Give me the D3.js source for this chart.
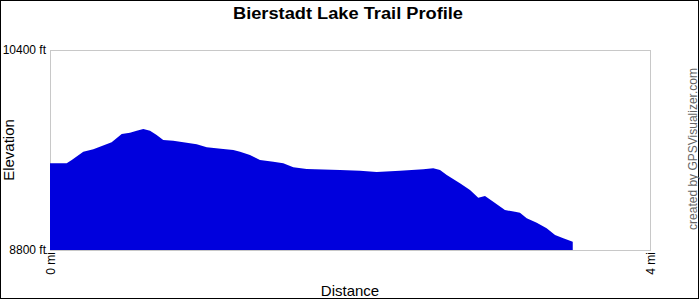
<!DOCTYPE html>
<html>
<head>
<meta charset="utf-8">
<script src="https://cdn.jsdelivr.net/npm/d3@7"></script>
<style>
  html, body { margin: 0; padding: 0; background: #fff; }
  svg { display: block; font-family: "Liberation Sans", Arial, sans-serif; }
</style>
</head>
<body>
<svg id="chart" width="700" height="300"></svg>
<script>
// Distance along trail (miles)
const distMi = [0, 0.111, 0.145, 0.222, 0.289, 0.411, 0.478, 0.533, 0.578, 0.622, 0.667, 0.711, 0.755, 0.822, 0.889, 0.978, 1.045, 1.155, 1.222, 1.267, 1.333, 1.4, 1.489, 1.555, 1.622, 1.711, 1.933, 2.067, 2.178, 2.333, 2.489, 2.555, 2.6, 2.645, 2.733, 2.8, 2.855, 2.9, 2.955, 3.033, 3.1, 3.133, 3.178, 3.245, 3.311, 3.367, 3.422, 3.485];
// Elevation (feet)
const elevFt = [9494, 9494, 9520, 9586, 9606, 9662, 9728, 9738, 9754, 9768, 9754, 9720, 9680, 9674, 9662, 9646, 9622, 9608, 9600, 9586, 9560, 9520, 9506, 9494, 9462, 9448, 9440, 9434, 9424, 9434, 9446, 9454, 9440, 9400, 9334, 9280, 9218, 9232, 9186, 9120, 9106, 9098, 9054, 9018, 8974, 8920, 8894, 8866];
const xTicks = [0, 4];
const xTickLabels = ["0 mi", "4 mi"];
const yTicks = [8800, 10400];
const yTickLabels = ["8800 ft", "10400 ft"];
const titleText = "Bierstadt Lake Trail Profile";
const xTitle = "Distance";
const yTitle = "Elevation";
const credit = "created by GPSVisualizer.com";

const svg = d3.select("#chart");
const W = 700, H = 300;
const plot = { left: 50, right: 650, top: 50, bottom: 250 };

const x = d3.scaleLinear().domain([0, 4]).range([plot.left, plot.right]);
const y = d3.scaleLinear().domain([8800, 10400]).range([plot.bottom, plot.top]);

// outer frame
svg.append("rect")
  .attr("x", 0.5).attr("y", 0.5).attr("width", W - 2).attr("height", H - 2)
  .attr("fill", "#fff").attr("stroke", "#000").attr("stroke-width", 1);

// plot border
svg.append("rect")
  .attr("x", plot.left + 0.5).attr("y", plot.top + 0.5)
  .attr("width", plot.right - plot.left).attr("height", plot.bottom - plot.top)
  .attr("fill", "none").attr("stroke", "#c8c8c8").attr("stroke-width", 1);

const data = distMi.map((d, i) => ({ d, e: elevFt[i] }));
const area = d3.area()
  .x(p => x(p.d))
  .y0(y(8800))
  .y1(p => y(p.e))
  .curve(d3.curveLinear);

svg.append("path")
  .datum(data)
  .attr("d", area)
  .attr("fill", "#0000dd");

// y axis labels
const yAxis = d3.axisLeft(y)
  .tickValues(yTicks)
  .tickFormat((v, i) => yTickLabels[yTicks.indexOf(v)])
  .tickSize(0)
  .tickPadding(4);
const gy = svg.append("g").attr("transform", `translate(${plot.left},0)`).call(yAxis);
gy.select(".domain").remove();
gy.selectAll("text")
  .attr("font-family", "'Liberation Sans', Arial, sans-serif")
  .attr("font-size", 12).attr("fill", "#000")
  .attr("dy", null).attr("y", 3);

// x axis labels (rotated)
const xAxis = d3.axisBottom(x)
  .tickValues(xTicks)
  .tickFormat(v => xTickLabels[xTicks.indexOf(v)])
  .tickSize(0);
const gx = svg.append("g").attr("transform", `translate(0,${plot.bottom})`).call(xAxis);
gx.select(".domain").remove();
gx.selectAll("text")
  .attr("font-family", "'Liberation Sans', Arial, sans-serif")
  .attr("font-size", 12).attr("fill", "#000")
  .attr("dy", null).attr("y", 0).attr("x", 0)
  .attr("text-anchor", "end")
  .attr("transform", "translate(4.5,2) rotate(-90)");

// title
svg.append("text")
  .attr("x", 348).attr("y", 18.5)
  .attr("text-anchor", "middle")
  .attr("font-size", 16).attr("font-weight", "bold")
  .attr("textLength", 230).attr("lengthAdjust", "spacingAndGlyphs")
  .text(titleText);

// axis titles
svg.append("text")
  .attr("x", 350).attr("y", 296)
  .attr("text-anchor", "middle")
  .attr("font-size", 15)
  .text(xTitle);

svg.append("text")
  .attr("transform", "translate(14,150) rotate(-90)")
  .attr("text-anchor", "middle")
  .attr("font-size", 15)
  .text(yTitle);

// credit
svg.append("text")
  .attr("transform", "translate(697,149) rotate(-90)")
  .attr("text-anchor", "middle")
  .attr("font-size", 12)
  .attr("fill", "#666")
  .text(credit);
</script>
</body>
</html>
